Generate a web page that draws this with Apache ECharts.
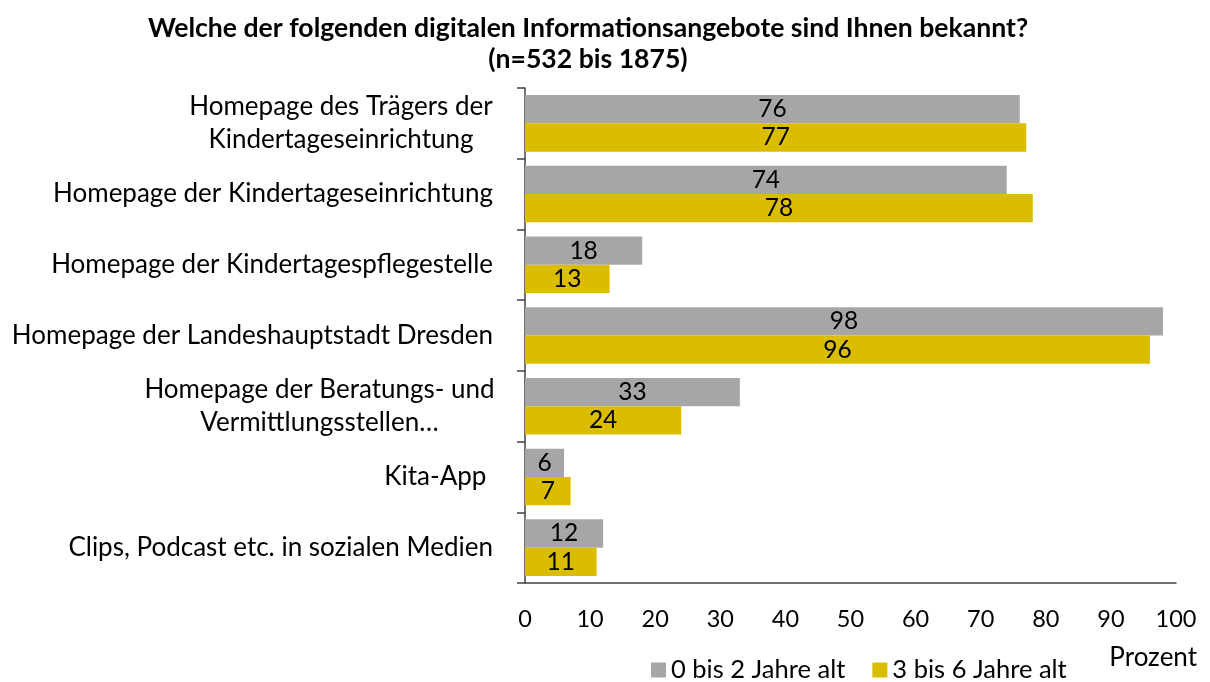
<!DOCTYPE html>
<html>
<head>
<meta charset="utf-8">
<script src="https://cdn.jsdelivr.net/npm/echarts@6/dist/echarts.min.js"></script>
<style>
    html, body { margin: 0; padding: 0; background: #fff; }
    #echart { width: 1210px; height: 682px; }
</style>
</head>
<body>
<div id="echart"></div>
<script>
// Kategorien von oben nach unten
const categories = [
    'Homepage des Trägers der\nKindertageseinrichtung',
    'Homepage der Kindertageseinrichtung',
    'Homepage der Kindertagespflegestelle',
    'Homepage der Landeshauptstadt Dresden',
    'Homepage der Beratungs- und\nVermittlungsstellen…',
    'Kita-App ',
    'Clips, Podcast etc. in sozialen Medien'
];
const seriesNames = ['0 bis 2 Jahre alt', '3 bis 6 Jahre alt'];
const valuesYoung = [76, 74, 18, 98, 33, 6, 12];
const valuesOld = [77, 78, 13, 96, 24, 7, 11];
const xTicks = [0, 100, 10];   // min, max, interval

const font = 'Lato';
const colorArr = ['#a6a6a6', '#dbbd00'];

let Echart = echarts.init(document.getElementById('echart'));

// mehrzeilige Beschriftungen zentriert im Block
function catFormatter(name) {
    if (name.indexOf('\n') < 0) {
        return name;
    }
    let lines = name.split('\n');
    let style = lines[0].length > 25 ? 'b' : 'a';
    return lines.map(l => '{' + style + '|' + l + '}').join('\n');
}

let labelStyle = {
    show: true,
    position: 'inside',
    color: '#000',
    fontFamily: font,
    fontSize: 24.5
};

let option = {
    backgroundColor: '#fff',
    animation: false,
    title: {
        text: 'Welche der folgenden digitalen Informationsangebote sind Ihnen bekannt?\n(n=532 bis 1875)',
        left: 583,
        top: 8,
        textAlign: 'center',
        textStyle: {
            fontFamily: font,
            fontWeight: 'bold',
            fontSize: 26.6,
            lineHeight: 31,
            color: '#000'
        }
    },
    legend: {
        left: 646,
        top: 652,
        itemWidth: 15,
        itemHeight: 15,
        itemGap: 27,
        icon: 'rect',
        selectedMode: false,
        textStyle: {
            fontFamily: font,
            fontSize: 25.5,
            color: '#000',
            padding: [0, 0, 0, 0]
        },
        data: seriesNames
    },
    grid: {
        left: 525,
        right: 34,
        top: 88,
        bottom: 99,
        containLabel: false
    },
    xAxis: {
        type: 'value',
        min: xTicks[0],
        max: xTicks[1],
        interval: xTicks[2],
        axisLine: {show: true, lineStyle: {color: '#404040', width: 1.5}},
        axisTick: {show: false},
        splitLine: {show: false},
        axisLabel: {
            margin: 24,
            color: '#000',
            fontFamily: font,
            fontSize: 23.5
        }
    },
    yAxis: {
        type: 'category',
        inverse: true,
        data: categories,
        axisLine: {show: true, lineStyle: {color: '#404040', width: 1.5}},
        axisTick: {show: true, length: 8, lineStyle: {color: '#404040', width: 1.5}},
        axisLabel: {
            margin: 32,
            color: '#000',
            fontFamily: font,
            fontSize: 26,
            lineHeight: 33,
            formatter: catFormatter,
            rich: {
                a: {width: 304, align: 'center', fontFamily: font, fontSize: 26, lineHeight: 33, color: '#000'},
                b: {width: 347, align: 'center', fontFamily: font, fontSize: 26, lineHeight: 33, color: '#000'}
            }
        }
    },
    graphic: [{
        type: 'text',
        right: 13,
        top: 645,
        style: {
            text: 'Prozent',
            fontFamily: font,
            fontSize: 26,
            fill: '#000'
        }
    }],
    series: [{
        name: seriesNames[0],
        type: 'bar',
        data: valuesYoung,
        barGap: '0%',
        barCategoryGap: '20%',
        itemStyle: {color: colorArr[0]},
        label: labelStyle
    }, {
        name: seriesNames[1],
        type: 'bar',
        data: valuesOld,
        barGap: '0%',
        barCategoryGap: '20%',
        itemStyle: {color: colorArr[1]},
        label: labelStyle
    }]
};
Echart.setOption(option);
</script>
</body>
</html>
